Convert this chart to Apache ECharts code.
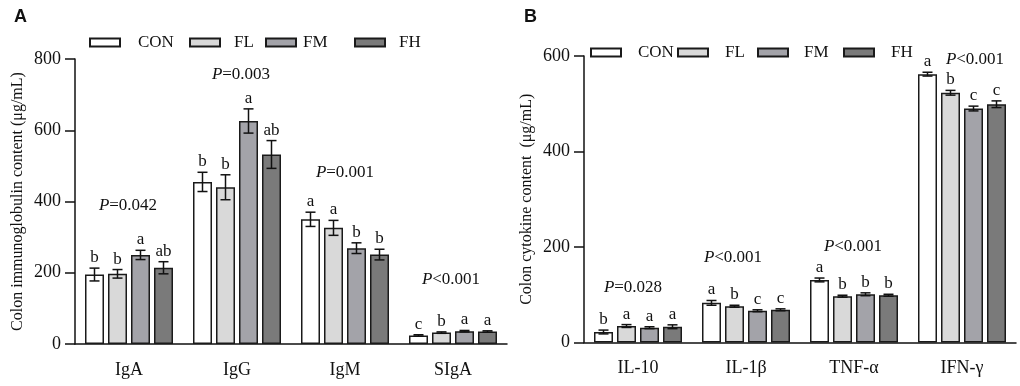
<!DOCTYPE html>
<html>
<head>
<meta charset="utf-8">
<script src="https://cdn.jsdelivr.net/npm/echarts@6/dist/echarts.min.js"></script>
<style>
  html, body { margin: 0; padding: 0; background: #fff; }
  #chart { width: 1020px; height: 386px; }
</style>
</head>
<body>
<div id="chart"></div>
<script>
// groups
const groups = ['CON', 'FL', 'FM', 'FH'];
const groupColors = ['#ffffff', '#d9d9d9', '#a3a3a9', '#7a7a7a'];

// panel A - immunoglobulins
const categoriesA = ['IgA', 'IgG', 'IgM', 'SIgA'];
const conA = [195, 455, 350, 24];
const flA = [197, 440, 326, 32];
const fmA = [250, 626, 269, 36];
const fhA = [214, 532, 251, 35];
const conErrA = [18, 27, 20, 2];
const flErrA = [12, 35, 21, 2];
const fmErrA = [13, 34, 15, 2];
const fhErrA = [17, 39, 15, 2];
const conLetA = ['b', 'b', 'a', 'c'];
const flLetA = ['b', 'b', 'a', 'b'];
const fmLetA = ['a', 'a', 'b', 'a'];
const fhLetA = ['ab', 'ab', 'b', 'a'];
const pTextA = ['=0.042', '=0.003', '=0.001', '<0.001'];
const pHeightA = [390, 757, 480, 182];
const yTicksA = [0, 200, 400, 600, 800];

// panel B - cytokines
const categoriesB = ['IL-10', 'IL-1β', 'TNF-α', 'IFN-γ'];
const conB = [22, 83, 131, 562];
const flB = [34.5, 76, 97, 523];
const fmB = [31, 66.5, 101, 490];
const fhB = [33, 68.5, 99, 499];
const conErrB = [4, 5, 4, 4];
const flErrB = [3, 2, 2, 5];
const fmErrB = [2, 2, 3, 5];
const fhErrB = [4, 2, 2, 7];
const conLetB = ['b', 'a', 'a', 'a'];
const flLetB = ['a', 'b', 'b', 'b'];
const fmLetB = ['a', 'c', 'b', 'c'];
const fhLetB = ['a', 'c', 'b', 'c'];
const pTextB = ['=0.028', '<0.001', '<0.001', '<0.001'];
const pHeightB = [116, 177, 200, 592];
const yTicksB = [0, 200, 400, 600];

const SERIF = '"Liberation Serif", "Times New Roman", serif';
const SANS = '"Liberation Sans", Arial, sans-serif';
const BAR_W = 19;
const BAR_GAP = 4;

const panels = [
  {
    cats: categoriesA, vals: [conA, flA, fmA, fhA], errs: [conErrA, flErrA, fmErrA, fhErrA],
    lets: [conLetA, flLetA, fmLetA, fhLetA], pText: pTextA, pHeight: pHeightA, pShift: [-1, 4, 0, -2],
    ticks: yTicksA, name: 'Colon immunoglobulin content (μg/mL)',
    legendX: [89, 189, 265, 354], legendPad: [13, 9, 2, 9], legendY: 34
  },
  {
    cats: categoriesB, vals: [conB, flB, fmB, fhB], errs: [conErrB, flErrB, fmErrB, fhErrB],
    lets: [conLetB, flLetB, fmLetB, fhLetB], pText: pTextB, pHeight: pHeightB, pShift: [-5, -13, -1, 13],
    ticks: yTicksB, name: 'Colon cytokine content  (μg/mL)',
    legendX: [590, 677, 757, 843], legendPad: [12, 12, 11, 12], legendY: 44
  }
];

const series = [];
const legends = [];

panels.forEach((p, pi) => {
  groups.forEach((g, gi) => {
    series.push({
      name: g,
      type: 'bar',
      xAxisIndex: pi,
      yAxisIndex: pi,
      barWidth: BAR_W,
      barGap: (BAR_GAP / BAR_W * 100) + '%',
      data: p.vals[gi],
      itemStyle: { color: groupColors[gi], borderColor: '#1a1a1a', borderWidth: 1.5 },
      emphasis: { disabled: true }
    });
  });
  groups.forEach((g, gi) => {
    const offset = (gi - 1.5) * (BAR_W + BAR_GAP);
    series.push({
      type: 'custom',
      xAxisIndex: pi,
      yAxisIndex: pi,
      z: 5,
      silent: true,
      data: p.vals[gi].map((v, i) => [i, v, p.errs[gi][i]]),
      renderItem: function (params, api) {
        const i = api.value(0), v = api.value(1), e = api.value(2);
        const x = api.coord([i, v])[0] + offset;
        const top = api.coord([i, v + e])[1];
        const bot = api.coord([i, v - e])[1];
        const st = { stroke: '#111', lineWidth: 1.5 };
        return {
          type: 'group',
          children: [
            { type: 'line', shape: { x1: x, y1: top, x2: x, y2: bot }, style: st },
            { type: 'line', shape: { x1: x - 5, y1: top, x2: x + 5, y2: top }, style: st },
            { type: 'line', shape: { x1: x - 5, y1: bot, x2: x + 5, y2: bot }, style: st },
            {
              type: 'text',
              style: {
                x: x, y: top - 2, text: p.lets[gi][params.dataIndex],
                align: 'center', verticalAlign: 'bottom',
                font: '17px ' + SERIF, fill: '#111'
              }
            }
          ]
        };
      }
    });
    legends.push({
      data: [g],
      left: p.legendX[gi],
      top: p.legendY,
      padding: 0,
      icon: 'rect',
      itemWidth: 30,
      itemHeight: 8,
      selectedMode: false,
      textStyle: { fontFamily: SERIF, fontSize: 17, color: '#111', padding: [0, 0, 0, p.legendPad[gi]] }
    });
  });
  // P value annotations
  series.push({
    type: 'custom',
    xAxisIndex: pi,
    yAxisIndex: pi,
    silent: true,
    data: p.pHeight.map((h, i) => [i, h]),
    renderItem: function (params, api) {
      const pt = api.coord([api.value(0), api.value(1)]);
      return {
        type: 'text',
        style: {
          x: pt[0] + p.pShift[params.dataIndex], y: pt[1],
          text: '{i|P}' + p.pText[params.dataIndex],
          align: 'center', verticalAlign: 'middle',
          font: '17px ' + SERIF, fill: '#111',
          rich: { i: { fontStyle: 'italic', fontFamily: SERIF, fontSize: 17, fill: '#111' } }
        }
      };
    }
  });
});

const chart = echarts.init(document.getElementById('chart'), null, { renderer: 'canvas' });
chart.setOption({
  animation: false,
  backgroundColor: '#fff',
  title: [
    { text: 'A', left: 9, top: 3, textStyle: { fontFamily: SANS, fontWeight: 'bold', fontSize: 18, color: '#111' } },
    { text: 'B', left: 519, top: 3, textStyle: { fontFamily: SANS, fontWeight: 'bold', fontSize: 18, color: '#111' } }
  ],
  legend: legends,
  grid: [
    { left: 75, top: 59, width: 432, height: 285 },
    { left: 584, top: 56, width: 432, height: 286.5 }
  ],
  xAxis: panels.map((p, pi) => ({
    type: 'category',
    gridIndex: pi,
    data: p.cats,
    axisLine: { lineStyle: { color: '#111', width: 1.5 } },
    axisTick: { show: false },
    axisLabel: { margin: 17, fontFamily: SERIF, fontSize: 18, color: '#111' }
  })),
  yAxis: panels.map((p, pi) => ({
    type: 'value',
    gridIndex: pi,
    min: 0,
    max: p.ticks[p.ticks.length - 1],
    interval: p.ticks[1] - p.ticks[0],
    name: p.name,
    nameLocation: 'middle',
    nameGap: 49,
    nameTextStyle: { fontFamily: SERIF, fontSize: 16, color: '#111' },
    axisLine: { show: true, lineStyle: { color: '#111', width: 1.5 } },
    axisTick: { show: true, length: 10, lineStyle: { color: '#111', width: 1.5 } },
    axisLabel: { margin: 14, fontFamily: SERIF, fontSize: 18, color: '#111' },
    splitLine: { show: false }
  })),
  series: series
});
</script>
</body>
</html>
